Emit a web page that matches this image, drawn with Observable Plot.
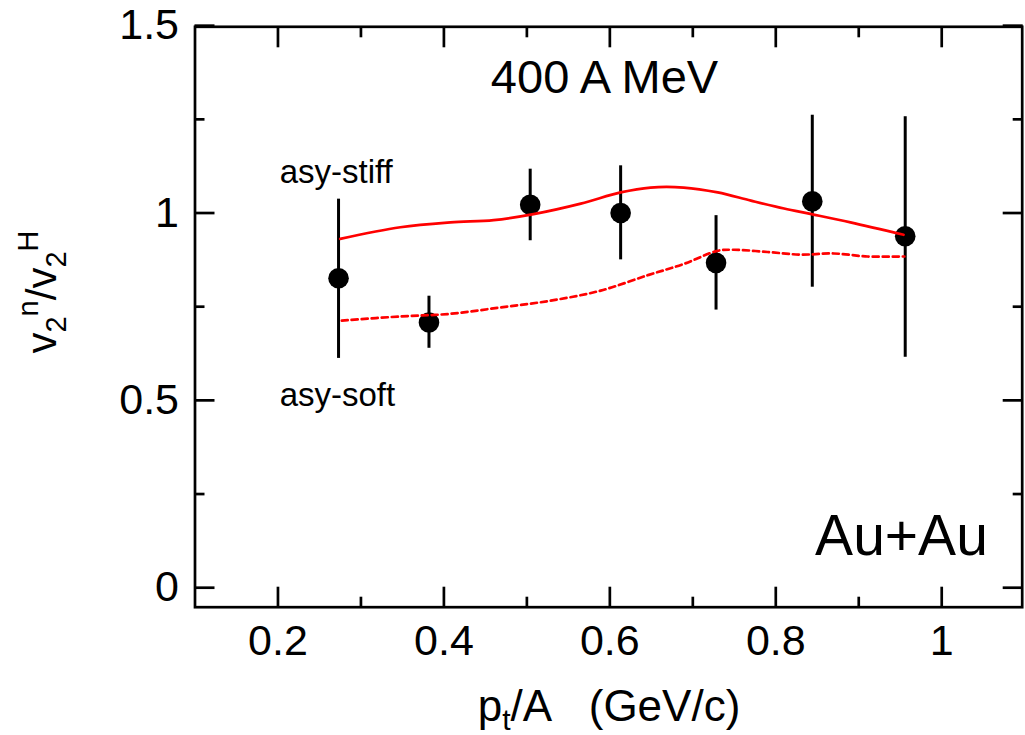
<!DOCTYPE html>
<html>
<head>
<meta charset="utf-8">
<script src="https://cdn.jsdelivr.net/npm/d3@7"></script>
<script src="https://cdn.jsdelivr.net/npm/@observablehq/plot@0.6"></script>
<style>
  html, body { margin: 0; padding: 0; background: #fff; }
  svg { display: block; }
</style>
</head>
<body>
<div id="chart"></div>
<script>
// ---- data ----
const ptData   = [0.273, 0.382, 0.504, 0.613, 0.728, 0.844, 0.956];
const ratio    = [0.826, 0.708, 1.022, 1.000, 0.867, 1.031, 0.938];
const errLow   = [0.612, 0.639, 0.926, 0.875, 0.741, 0.802, 0.615];
const errHigh  = [1.037, 0.778, 1.117, 1.126, 0.993, 1.261, 1.257];

const stiffX = [0.275, 0.3475, 0.408, 0.460, 0.508, 0.565, 0.613, 0.649, 0.689, 0.730, 0.770, 0.810, 0.843, 0.890, 0.954];
const stiffY = [0.931, 0.962, 0.975, 0.981, 0.997, 1.025, 1.055, 1.068, 1.068, 1.055, 1.033, 1.012, 0.997, 0.975, 0.942];

const softX = [0.277, 0.3475, 0.408, 0.468, 0.5285, 0.589, 0.647, 0.689, 0.7296, 0.749, 0.790, 0.830, 0.870, 0.9105, 0.955];
const softY = [0.713, 0.724, 0.731, 0.748, 0.766, 0.793, 0.835, 0.864, 0.899, 0.902, 0.896, 0.889, 0.892, 0.884, 0.884];

const xMajor = [0.2, 0.4, 0.6, 0.8, 1.0];
const xMinor = [0.3, 0.5, 0.7, 0.9];
const yMajor = [0, 0.5, 1, 1.5];
const yMinor = [0.25, 0.75, 1.25];
const xTickLabels = [0.2, 0.4, 0.6, 0.8, 1];
const yTickLabels = [0, 0.5, 1, 1.5];

// ---- tables built from the arrays ----
const points = ptData.map((x, i) => ({x, y: ratio[i], lo: errLow[i], hi: errHigh[i]}));
const stiff = stiffX.map((x, i) => ({x, y: stiffY[i]}));
const soft = softX.map((x, i) => ({x, y: softY[i]}));

const fmt = d => String(d);
const TW = 2.7;

const chart = Plot.plot({
  width: 1025,
  height: 735,
  marginLeft: 194.5,
  marginRight: 3.3,
  marginTop: 26.3,
  marginBottom: 128.3,
  style: {fontFamily: "'Liberation Sans', Arial, Helvetica, sans-serif", fontSize: "43px", background: "#fff", color: "#000"},
  x: {domain: [0.1, 1.097]},
  y: {domain: [-0.052, 1.497]},
  marks: [
    // inward ticks on all four sides
    Plot.axisX({anchor: "bottom", ticks: xMajor, tickSize: -20, fill: "none", strokeWidth: TW, label: null}),
    Plot.axisX({anchor: "bottom", ticks: xMinor, tickSize: -10, fill: "none", strokeWidth: TW, label: null}),
    Plot.axisX({anchor: "top", ticks: xMajor, tickSize: -20, fill: "none", strokeWidth: TW, label: null}),
    Plot.axisX({anchor: "top", ticks: xMinor, tickSize: -10, fill: "none", strokeWidth: TW, label: null}),
    Plot.axisY({anchor: "left", ticks: yMajor, tickSize: -20, fill: "none", strokeWidth: TW, label: null}),
    Plot.axisY({anchor: "left", ticks: yMinor, tickSize: -10, fill: "none", strokeWidth: TW, label: null}),
    Plot.axisY({anchor: "right", ticks: yMajor, tickSize: -20, fill: "none", strokeWidth: TW, label: null}),
    Plot.axisY({anchor: "right", ticks: yMinor, tickSize: -10, fill: "none", strokeWidth: TW, label: null}),
    // tick labels
    Plot.axisX({anchor: "bottom", ticks: xTickLabels, tickSize: 0, tickPadding: 17, tickFormat: fmt, fontSize: 43, label: null}),
    Plot.axisY({anchor: "left", ticks: yTickLabels, tickSize: 0, tickPadding: 16, tickFormat: fmt, fontSize: 43, label: null}),
    Plot.frame({stroke: "#000", strokeWidth: TW}),
    // error bars and points
    Plot.ruleX(points, {x: "x", y1: "lo", y2: "hi", stroke: "#000", strokeWidth: 3}),
    Plot.dot(points, {x: "x", y: "y", r: 10.3, fill: "#000", stroke: "none"}),
    // model curves
    Plot.line(stiff, {x: "x", y: "y", stroke: "#ff0000", strokeWidth: 2.7, curve: "catmull-rom"}),
    Plot.line(soft, {x: "x", y: "y", stroke: "#ff0000", strokeWidth: 2.7, strokeDasharray: "6,4", curve: "catmull-rom"}),
    // annotations
    Plot.text(["400 A MeV"], {x: 0.5936, y: 1.321, text: d => d, fontSize: 47, textAnchor: "middle", lineAnchor: "bottom", fill: "#000"}),
    Plot.text(["asy-stiff"], {x: 0.202, y: 1.081, text: d => d, fontSize: 33, textAnchor: "start", lineAnchor: "bottom", fill: "#000"}),
    Plot.text(["asy-soft"], {x: 0.202, y: 0.486, text: d => d, fontSize: 33, textAnchor: "start", lineAnchor: "bottom", fill: "#000"}),
    Plot.text(["Au+Au"], {x: 1.0556, y: 0.086, text: d => d, fontSize: 57, textAnchor: "end", lineAnchor: "bottom", fill: "#000"})
  ]
});

document.getElementById("chart").appendChild(chart);

// axis titles with sub/superscripts
const svg = d3.select(chart);
const ff = "'Liberation Sans', Arial, Helvetica, sans-serif";

const yl = svg.append("text")
  .attr("transform", "translate(56,292) rotate(-90)")
  .attr("text-anchor", "middle")
  .attr("font-family", ff)
  .attr("font-size", 42)
  .attr("fill", "#000");
yl.append("tspan").text("v");
yl.append("tspan").attr("font-size", 29).attr("dy", 10).text("2");
yl.append("tspan").attr("font-size", 29).attr("dy", -28).text("n");
yl.append("tspan").attr("dy", 18).text("/v");
yl.append("tspan").attr("font-size", 29).attr("dy", 10).text("2");
yl.append("tspan").attr("font-size", 29).attr("dy", -28).text("H");

const xl = svg.append("text")
  .attr("x", 609)
  .attr("y", 721)
  .attr("text-anchor", "middle")
  .attr("font-family", ff)
  .attr("font-size", 44)
  .attr("fill", "#000");
xl.append("tspan").text("p");
xl.append("tspan").attr("font-size", 30).attr("dy", 9).text("t");
xl.append("tspan").attr("dy", -9).text("/A\u00a0\u00a0\u00a0(GeV/c)");
</script>
</body>
</html>
